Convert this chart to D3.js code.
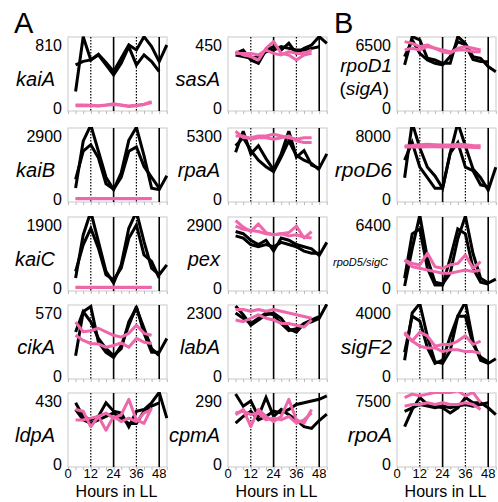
<!DOCTYPE html>
<html><head><meta charset="utf-8">
<script src="https://cdn.jsdelivr.net/npm/d3@7"></script>
<style>
html,body{margin:0;padding:0;background:#fff;}
svg{display:block;font-family:"Liberation Sans",Arial,sans-serif;}
</style></head>
<body><svg id="c" width="498" height="502"></svg>
<script>
// ---- data ----
const hours = [4, 8, 12, 16, 20, 24, 28, 32, 36, 40, 44, 48, 52];
const xTicks = [0, 12, 24, 36, 48];
const genes = ["kaiA","kaiB","kaiC","cikA","ldpA","sasA","rpaA","pex","labA","cpmA","rpoD1","rpoD6","rpoD5/sigC","sigF2","rpoA"];
const yMax = [810, 2900, 1900, 570, 430, 450, 5300, 2900, 2300, 290, 6500, 8000, 6400, 4000, 7500];

const kaiA_black = [[213, 917, 618, 691, 584, 469, 639, 810, 746, 917, 789, 597, 810],
                    [554, 600, 618, 682, 554, 426, 575, 789, 554, 682, 597, 469]];
const kaiA_pink  = [[40, 40, 35, 30, 40, 55, 40, 25, 35, 50, 80],
                    [30, 30, 30, 25, 35, 45, 35, 20, 30, 45, 70]];
const kaiB_black = [[510, 2660, 3400, 2200, 1000, 430, 1200, 2700, 3300, 2000, 500, 430, 1070],
                    [900, 2200, 2500, 1900, 700, 450, 1000, 2200, 2400, 1500, 1000, 500]];
const kaiB_pink  = [[25, 25, 25, 25, 25, 25, 25, 25, 25, 25, 25],
                    [15, 15, 15, 15, 15, 15, 15, 15, 15, 15, 15]];
const kaiC_black = [[300, 1600, 2300, 1400, 500, 150, 700, 1800, 2300, 1400, 600, 400, 700],
                    [500, 1300, 1800, 1200, 400, 250, 600, 1500, 1900, 1000, 800, 300]];
const kaiC_pink  = [[25, 25, 25, 25, 25, 25, 25, 25, 25, 25, 25],
                    [15, 15, 15, 15, 15, 15, 15, 15, 15, 15, 15]];
const cikA_black = [[184, 582, 628, 306, 214, 168, 276, 460, 628, 386, 214, 214, 340],
                    [398, 582, 490, 340, 248, 184, 248, 490, 616, 432, 248, 184]];
const cikA_pink  = [[487, 400, 410, 432, 400, 368, 352, 386, 460, 386, 368],
                    [368, 322, 294, 290, 260, 276, 300, 260, 340, 306, 294]];
const ldpA_black = [[418, 325, 301, 325, 418, 360, 348, 254, 360, 372, 418, 489, 313],
                    [372, 301, 277, 301, 325, 348, 313, 277, 277, 360, 395, 418]];
const ldpA_pink  = [[372, 360, 254, 325, 348, 313, 336, 441, 301, 277, 383],
                    [301, 301, 313, 325, 230, 325, 290, 313, 290, 348, 372]];
const sasA_black = [[390, 414, 343, 319, 414, 438, 414, 462, 390, 426, 450, 510, 462],
                    [379, 367, 355, 367, 402, 414, 438, 426, 414, 414, 426, 438]];
const sasA_pink  = [[402, 379, 367, 343, 426, 474, 390, 379, 343, 379, 390],
                    [390, 390, 390, 379, 414, 390, 379, 402, 390, 390, 414]];
const rpaA_black = [[3940, 5700, 3800, 4480, 3400, 2450, 3800, 5700, 3530, 4080, 2850, 2580, 3800],
                    [4480, 5160, 4080, 3260, 2720, 2310, 3530, 4890, 3670, 3260, 2990, 2450]];
const rpaA_pink  = [[5700, 5160, 5160, 5300, 5300, 5440, 5300, 5160, 5030, 5160, 5160],
                    [5300, 5300, 5030, 5160, 5160, 5030, 5160, 5300, 4890, 4750, 4750]];
const pex_black  = [[2600, 2500, 2200, 2000, 2200, 1700, 2300, 2200, 2000, 1900, 1800, 1500, 2100],
                    [2400, 2300, 2000, 1900, 2000, 1900, 2100, 2000, 1900, 1700, 1600, 1600]];
const pex_pink   = [[3100, 2800, 2600, 2950, 2550, 2450, 2500, 2550, 2850, 2300, 2600],
                    [2850, 2700, 2650, 2600, 2500, 2450, 2500, 2400, 2450, 2350, 2300]];
const labA_black = [[2556, 2236, 1853, 2045, 2236, 2300, 2108, 1725, 1597, 1917, 1981, 2108, 2620],
                    [2300, 2108, 1917, 2108, 2300, 2236, 1917, 1661, 1725, 1917, 2045, 2172]];
const labA_pink  = [[2428, 2428, 2364, 2428, 2364, 2428, 2364, 2300, 2236, 2172, 2108],
                    [2045, 1981, 2108, 2236, 2108, 2045, 1917, 1917, 1853, 1789, 2045]];
const cpmA_black = [[322, 266, 290, 219, 306, 219, 251, 227, 203, 172, 164, 200, 230],
                    [188, 219, 243, 203, 219, 243, 235, 251, 274, 282, 290, 298, 314]];
const cpmA_pink  = [[227, 251, 172, 251, 219, 196, 219, 298, 203, 188, 251],
                    [235, 243, 227, 235, 203, 211, 203, 219, 188, 203, 235]];
const rpoD1_black = [[4440, 7360, 7020, 5130, 4950, 4610, 4610, 7360, 6670, 5300, 5130, 4270, 3750],
                     [5300, 7020, 5640, 4950, 4610, 4440, 5300, 6850, 6500, 5000, 4800, 4780]];
const rpoD1_pink  = [[6850, 6670, 6330, 6500, 6160, 5990, 5810, 5990, 5990, 5810, 5810],
                     [5990, 6160, 5990, 6330, 6160, 5810, 5640, 6160, 6330, 6160, 5990]];
const rpoD6_black = [[2700, 9650, 6510, 4040, 2920, 1350, 5840, 9650, 6740, 3820, 2700, 1120, 4040],
                     [4940, 7180, 4040, 2700, 1350, 1350, 5840, 7180, 4040, 3590, 1800, 1570]];
const rpoD6_pink  = [[6740, 6800, 6900, 6950, 6900, 6850, 6850, 6950, 6900, 6800, 6750],
                     [6600, 6650, 6600, 6650, 6650, 6600, 6650, 6650, 6600, 6550, 6500]];
const rpoD5_black = [[200, 4000, 7400, 3000, 600, 400, 1500, 5000, 7300, 3500, 1000, 500, 900],
                     [1000, 5500, 6000, 2000, 300, 300, 3000, 6000, 5500, 2000, 600, 400]];
const rpoD5_pink  = [[2840, 2500, 2340, 3520, 2160, 2000, 2340, 2500, 3350, 2000, 2670],
                     [2840, 2160, 2000, 1830, 1660, 1490, 1490, 1660, 1830, 1660, 1830]];
const sigF2_black = [[1000, 4000, 4600, 2500, 900, 800, 1600, 3800, 4700, 2200, 1000, 800, 1100],
                     [1500, 3800, 3500, 1800, 800, 1000, 2500, 3800, 3800, 2000, 1200, 900]];
const sigF2_pink  = [[2780, 2220, 2780, 2550, 1890, 2000, 2000, 2220, 2550, 2000, 2220],
                     [2670, 2220, 1890, 1780, 1780, 1550, 1670, 1670, 1550, 1550, 1440]];
const rpoA_black = [[4440, 6480, 7910, 7090, 6890, 6690, 6080, 6690, 7910, 7300, 7300, 6690, 5870],
                    [6270, 6690, 7090, 6890, 6690, 6890, 6690, 6890, 7090, 6890, 7090, 7300]];
const rpoA_pink  = [[7910, 8320, 8110, 8320, 8520, 8520, 8520, 8720, 8110, 8520, 7300],
                    [6890, 7090, 7090, 7300, 7090, 7300, 7090, 7090, 7300, 7090, 6480]];

const blackSeries = [kaiA_black, kaiB_black, kaiC_black, cikA_black, ldpA_black,
  sasA_black, rpaA_black, pex_black, labA_black, cpmA_black,
  rpoD1_black, rpoD6_black, rpoD5_black, sigF2_black, rpoA_black];
const pinkSeries = [kaiA_pink, kaiB_pink, kaiC_pink, cikA_pink, ldpA_pink,
  sasA_pink, rpaA_pink, pex_pink, labA_pink, cpmA_pink,
  rpoD1_pink, rpoD6_pink, rpoD5_pink, sigF2_pink, rpoA_pink];

// ---- layout ----
const svg = d3.select("#c");
const colLeft = [68, 228, 397];
const colLabelX = [55, 220, 392];
const rowTop = [37, 128, 217, 305, 393];
const W = 99, H = 74;
const PINK = "#ef67ab";

svg.append("text").attr("x", 14).attr("y", 33).attr("font-size", 29).text("A");
svg.append("text").attr("x", 334).attr("y", 33).attr("font-size", 29).text("B");

genes.forEach((g, k) => {
  const col = Math.floor(k / 5), row = k % 5;
  const L = colLeft[col], T = rowTop[row];
  const x = d3.scaleLinear().domain([0, 52.1]).range([L, L + W]);
  const y = d3.scaleLinear().domain([0, yMax[k]]).range([T + 71, T + 8]);
  const gp = svg.append("g");

  const clipId = "clip" + k;
  svg.append("clipPath").attr("id", clipId).append("rect")
    .attr("x", L).attr("y", T - 1).attr("width", W + 2).attr("height", H + 1);

  gp.append("rect").attr("x", L).attr("y", T).attr("width", W).attr("height", H)
    .attr("fill", "none").attr("stroke", "#c9c9c9").attr("stroke-width", 1);

  // minor ticks along bottom
  const ax = gp.append("g").attr("transform", `translate(0,${T + H})`)
    .call(d3.axisBottom(x).tickValues(d3.range(0, 53, 4)).tickSize(3).tickFormat(""));
  ax.select(".domain").remove();
  ax.selectAll("line").attr("stroke", "#bbb");

  // reference lines
  [12, 36].forEach(h => gp.append("line").attr("x1", x(h)).attr("x2", x(h))
    .attr("y1", T).attr("y2", T + H).attr("stroke", "#000").attr("stroke-width", 1.2)
    .attr("stroke-dasharray", "1.5,1.5"));
  [24, 48].forEach(h => gp.append("line").attr("x1", x(h)).attr("x2", x(h))
    .attr("y1", T).attr("y2", T + H).attr("stroke", "#000").attr("stroke-width", 1.6));

  const line = d3.line().x((d, i) => x(hours[i])).y(d => y(d));
  const lg = gp.append("g").attr("clip-path", `url(#${clipId})`);
  blackSeries[k].forEach(s => lg.append("path").attr("d", line(s)).attr("fill", "none")
    .attr("stroke", "#000").attr("stroke-width", 3).attr("stroke-linejoin", "miter").attr("stroke-miterlimit", 3));
  pinkSeries[k].forEach(s => lg.append("path").attr("d", line(s)).attr("fill", "none")
    .attr("stroke", PINK).attr("stroke-width", 3).attr("stroke-linejoin", "round"));

  // y labels
  const yl = gp.append("g").attr("font-size", 16).attr("text-anchor", "end");
  yl.append("text").attr("x", L - 6).attr("y", y(yMax[k])).attr("dy", "0.36em").text(d3.format("d")(yMax[k]));
  yl.append("text").attr("x", L - 6).attr("y", y(0)).attr("dy", "0.36em").text("0");

  // gene label
  const lx = colLabelX[col];
  if (g === "rpoD1") {
    gp.append("text").attr("x", lx).attr("y", T + 35).attr("font-size", 19)
      .attr("font-style", "italic").attr("text-anchor", "end").text("rpoD1");
    gp.append("text").attr("x", lx - 3).attr("y", T + 58).attr("font-size", 19)
      .attr("text-anchor", "end").html('(<tspan font-style="italic">sigA</tspan>)');
  } else if (g === "rpoD5/sigC") {
    gp.append("text").attr("x", lx - 4).attr("y", T + 49).attr("font-size", 11)
      .attr("font-style", "italic").attr("text-anchor", "end").text(g);
  } else {
    gp.append("text").attr("x", lx).attr("y", T + 48.5).attr("font-size", col === 2 ? 21 : 20)
      .attr("font-style", "italic").attr("text-anchor", "end").text(g);
  }

  // bottom row: x axis labels
  if (row === 4) {
    const xl = gp.append("g").attr("font-size", 13).attr("text-anchor", "middle");
    xTicks.forEach(t => xl.append("text").attr("x", x(t)).attr("y", T + H + 11).text(t));
    gp.append("text").attr("x", L + W / 2 - 1).attr("y", T + H + 30).attr("font-size", 16)
      .attr("text-anchor", "middle").text("Hours in LL");
  }
});
</script></body></html>
